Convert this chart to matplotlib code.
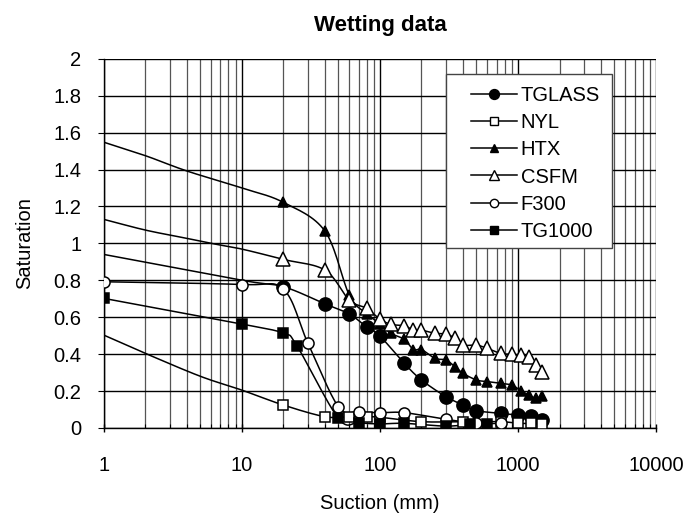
import numpy as np
import matplotlib
matplotlib.use("Agg")
import matplotlib.pyplot as plt
from matplotlib.patches import Rectangle
from matplotlib.ticker import LogLocator, FixedLocator, NullFormatter

plt.rcParams['font.family'] = ['Liberation Sans', 'DejaVu Sans']

# suction (mm) and saturation for each sample; leading points carry no marker
tglass_x = [1, 10, 20, 40, 60, 80, 100, 150, 200, 300, 400, 500, 750, 1000, 1250, 1500]
tglass_y = [0.94, 0.80, 0.765, 0.672, 0.617, 0.548, 0.498, 0.35, 0.26, 0.17, 0.125, 0.094, 0.079, 0.07, 0.067, 0.043]
tglass_lead = 2

nyl_x = [1, 2, 5, 10, 20, 40, 60, 80, 100, 200, 400, 750, 1000, 1250, 1500]
nyl_y = [0.503, 0.404, 0.28, 0.205, 0.124, 0.061, 0.061, 0.061, 0.058, 0.034, 0.034, 0.034, 0.025, 0.025, 0.022]
nyl_lead = 4

htx_x = [1, 2, 4, 10, 20, 40, 60, 80, 100, 120, 150, 175, 200, 250, 300, 350, 400,
         500, 600, 750, 900, 1050, 1200, 1350, 1500]
htx_y = [1.548, 1.475, 1.392, 1.30, 1.222, 1.066, 0.72, 0.62, 0.565, 0.513, 0.48, 0.425, 0.425, 0.377, 0.368,
         0.332, 0.296, 0.26, 0.251, 0.242, 0.233, 0.202, 0.179, 0.161, 0.175]
htx_lead = 4

csfm_x = [1, 2, 4, 6, 10, 20, 40, 60, 80, 100, 120, 150, 175, 200, 250, 300, 350, 400,
          500, 600, 750, 900, 1050, 1200, 1350, 1500]
csfm_y = [1.13, 1.072, 1.027, 1.0, 0.969, 0.913, 0.855, 0.693, 0.648, 0.59, 0.561, 0.554, 0.53, 0.53, 0.513,
          0.509, 0.486, 0.449, 0.449, 0.431, 0.404, 0.399, 0.395, 0.386, 0.341, 0.305]
csfm_lead = 5

f300_x = [1, 10, 20, 30, 50, 70, 100, 150, 300, 500, 750]
f300_y = [0.792, 0.777, 0.751, 0.462, 0.115, 0.088, 0.083, 0.083, 0.047, 0.025, 0.025]

tg1000_x = [1, 10, 20, 25, 50, 70, 100, 150, 300, 450, 600]
tg1000_y = [0.702, 0.563, 0.513, 0.446, 0.052, 0.029, 0.022, 0.025, 0.01, 0.02, 0.02]


def smooth(xs, ys, n=16):
    # Catmull-Rom curve through the points, worked out in log10(x)
    lx = np.log10(np.asarray(xs, float))
    y = np.asarray(ys, float)
    px = np.concatenate([[2 * lx[0] - lx[1]], lx, [2 * lx[-1] - lx[-2]]])
    py = np.concatenate([[2 * y[0] - y[1]], y, [2 * y[-1] - y[-2]]])
    ox, oy = [lx[0]], [y[0]]
    t = np.linspace(0, 1, n + 1)[1:]
    for i in range(1, len(px) - 2):
        for P, out in ((px, ox), (py, oy)):
            p0, p1, p2, p3 = P[i - 1], P[i], P[i + 1], P[i + 2]
            out.extend(0.5 * (2 * p1 + (-p0 + p2) * t + (2 * p0 - 5 * p1 + 4 * p2 - p3) * t ** 2
                              + (-p0 + 3 * p1 - 3 * p2 + p3) * t ** 3))
    return 10 ** np.array(ox), np.array(oy)


fig = plt.figure(figsize=(6.92, 5.2), dpi=100)
ax = fig.add_axes([0.150, 0.177, 0.798, 0.710])

series = [
    ("TGLASS", tglass_x, tglass_y, tglass_lead, dict(marker='o', ms=9.5, mfc='black')),
    ("NYL", nyl_x, nyl_y, nyl_lead, dict(marker='s', ms=7, mfc='white')),
    ("HTX", htx_x, htx_y, htx_lead, dict(marker='^', ms=7.5, mfc='black')),
    ("CSFM", csfm_x, csfm_y, csfm_lead, dict(marker='^', ms=10, mfc='white')),
    ("F300", f300_x, f300_y, 0, dict(marker='o', ms=8, mfc='white')),
    ("TG1000", tg1000_x, tg1000_y, 0, dict(marker='s', ms=7, mfc='black')),
]

for name, xs, ys, lead, style in series:
    sx, sy = smooth(xs, ys)
    ax.plot(sx, sy, color='black', lw=1.1, zorder=3)
    ax.plot(xs[lead:], ys[lead:], ls='none', mec='black', mew=1.1, zorder=4, **style)
    # legend handle: line with a smaller marker in the middle
    ax.plot([], [], color='black', lw=1.1, mec='black', mew=1.0, label=name,
            **{**style, 'ms': style['ms'] * 0.75})

ax.set_xscale('log')
ax.set_xlim(1, 10000)
ax.set_ylim(0, 2)
ax.yaxis.set_major_locator(FixedLocator(np.arange(0, 2.01, 0.2)))
ax.set_yticklabels(['0', '0.2', '0.4', '0.6', '0.8', '1', '1.2', '1.4', '1.6', '1.8', '2'])
ax.xaxis.set_minor_locator(LogLocator(base=10, subs=np.arange(2, 10), numticks=20))
ax.xaxis.set_minor_formatter(NullFormatter())
ax.set_xticks([1, 10, 100, 1000, 10000])
ax.set_xticklabels(['1', '10', '100', '1000', '10000'])

ax.grid(which='major', axis='both', color='black', lw=1.0)
ax.grid(which='minor', axis='x', color='#555555', lw=0.9)
ax.set_axisbelow(True)

for side in ('top', 'right'):
    ax.spines[side].set_visible(False)
ax.spines['left'].set_linewidth(1.0)
ax.spines['bottom'].set_linewidth(1.0)

ax.tick_params(axis='x', which='major', labelsize=14.5, length=6, width=1, direction='inout', pad=17)
ax.tick_params(axis='x', which='minor', length=3, width=0.8, direction='in')
ax.tick_params(axis='y', which='major', labelsize=14.5, direction='out', length=4, pad=12)

ax.set_title("Wetting data", fontsize=16, fontweight='bold', pad=20)
ax.set_xlabel("Suction (mm)", fontsize=14.5, labelpad=14)
ax.set_ylabel("Saturation", fontsize=14.5, labelpad=14)

# white legend panel with a wide left margin, entries drawn on top
ax.add_patch(Rectangle((0.619, 0.487), 0.301, 0.471, transform=ax.transAxes, facecolor='white',
                       edgecolor='#444444', lw=1.0, zorder=9))
leg = ax.legend(loc='upper right', bbox_to_anchor=(0.92, 0.958), borderaxespad=0, fontsize=14.5,
                frameon=False, handlelength=2.3, labelspacing=0.4, handletextpad=0.15, borderpad=0.6)
leg.set_zorder(10)

fig.savefig("out.png", dpi=100)
